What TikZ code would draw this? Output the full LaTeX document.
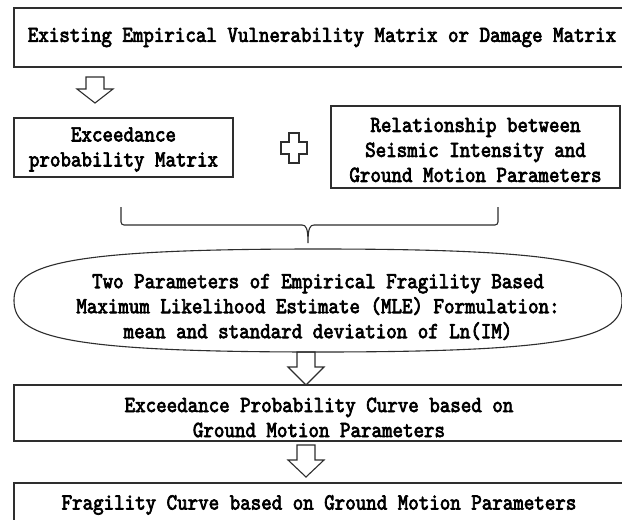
\documentclass[tikz,border=0pt]{standalone}
\usepackage{fontspec}
\newfontfamily\reffont{lmmono10-regular.otf}[FakeStretch=0.87, FakeBold=3]
\usetikzlibrary{calc}
\newcommand\hollowdown[3]{% top, tip, head length
  \draw[ln] let \p1=(#1), \p2=(#2) in
    (\x1-9pt,\y1) -- (\x1+9pt,\y1) -- (\x1+9pt,\y2+#3) -- (\x1+18pt,\y2+#3)
    -- (\x2,\y2) -- (\x1-18pt,\y2+#3) -- (\x1-9pt,\y2+#3) -- cycle;}
\begin{document}
\begin{tikzpicture}[x=1pt,y=-1pt,
  ln/.style={draw=black!82, line width=1.1pt, line join=miter},
  txt/.style={align=center, inner sep=0pt, font=\reffont\fontsize{23}{25}\selectfont},
  box/.style={ln, txt, rectangle}]
\useasboundingbox (0,0) rectangle (622,520);
\clip (0,0) rectangle (622,520);
\fill[white] (0,0) rectangle (622,520);

% boxes
\node[box, minimum width=616pt, minimum height=59pt] (exist) at (322,37.5)
  {Existing Empirical Vulnerability Matrix or Damage Matrix};
\node[box, minimum width=219pt, minimum height=59pt] (exc) at (123.5,147.5) {};
\node[txt] (exct) at ($(exc.center)+(0,2)$) {Exceedance\\probability Matrix};
\node[box, minimum width=289pt, minimum height=82pt] (rel) at (475.5,147) {};
\node[txt] (relt) at ($(rel.center)+(0,3)$)
  {Relationship between\\Seismic Intensity and\\Ground Motion Parameters};

% oval (flattened ellipse)
\coordinate (mle) at (318,300.5);
\draw[ln] (622,300.5) .. controls (622,336.5) and (576,352) .. (318,352)
  .. controls (60,352) and (14,336.5) .. (14,300.5)
  .. controls (14,264.5) and (60,249) .. (318,249)
  .. controls (576,249) and (622,264.5) .. (622,300.5) -- cycle;
\node[txt] (mlet) at (318,307)
  {Two Parameters of Empirical Fragility Based\\Maximum Likelihood Estimate (MLE) Formulation:\\mean and standard deviation of Ln(IM)};

\node[box, minimum width=610pt, minimum height=56pt] (epc) at (319,413) {};
\node[txt] (epct) at ($(epc.center)+(0,4.5)$)
  {Exceedance Probability Curve based on\\Ground Motion Parameters};
\node[box, minimum width=610pt, minimum height=44pt] (frag) at (319,505)
  {Fragility Curve based on Ground Motion Parameters};

% hollow arrows
\coordinate (a1t) at (95,77);  \coordinate (a1b) at (95,103);
\coordinate (a2t) at (306,352); \coordinate (a2b) at (306,385);
\coordinate (a3t) at (306,445); \coordinate (a3b) at (306,477);
\hollowdown{a1t}{a1b}{14pt}
\hollowdown{a2t}{a2b}{18pt}
\hollowdown{a3t}{a3b}{17pt}

% hollow plus
\draw[ln] (289,133) -- (299,133) -- (299,142) -- (307,142) -- (307,154) -- (299,154)
  -- (299,163) -- (289,163) -- (289,154) -- (281,154) -- (281,142) -- (289,142) -- cycle;

% brace
\draw[ln, rounded corners=3pt] (121,207) -- (121,225) -- (302,225);
\draw[ln, rounded corners=3pt] (314,225) -- (498,225) -- (498,207);
\draw[ln] (302,225) .. controls (306,225) and (308,228) .. (308,243)
  .. controls (308,228) and (310,225) .. (314,225);
\end{tikzpicture}
\end{document}
